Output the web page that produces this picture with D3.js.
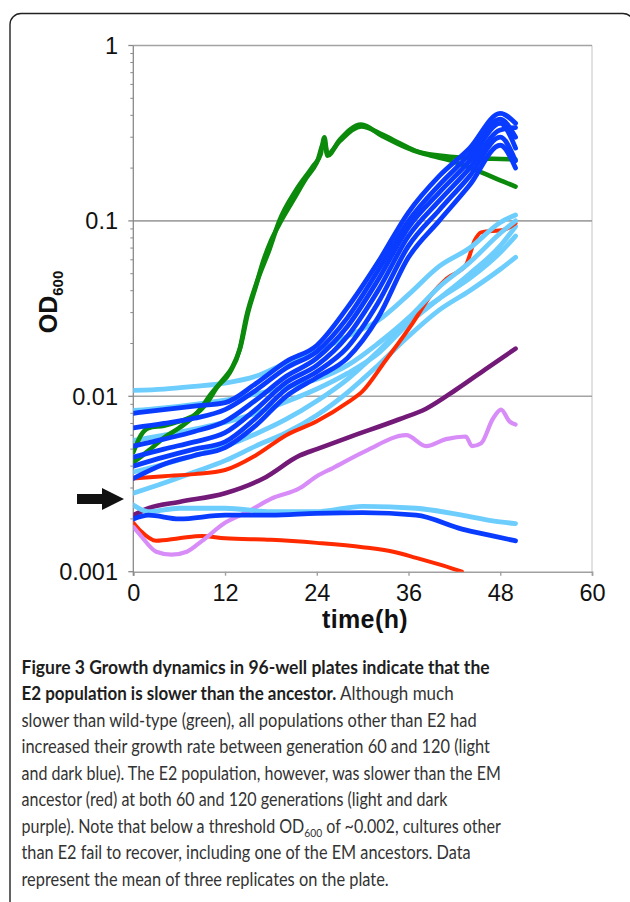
<!DOCTYPE html>
<html>
<head>
<meta charset="utf-8">
<script src="https://cdn.jsdelivr.net/npm/d3@7"></script>
<style>
  body { margin: 0; background: #fff; }
  svg { display: block; }
</style>
</head>
<body>
<svg id="chart" width="630" height="902"></svg>
<script>
// ---- data (OD600 vs hours) ----
var hours = [0, 4, 8, 12, 16, 20, 24, 28, 32, 36, 40, 44, 48, 50]

// 120 generations (dark blue)
var darkBlue1 = [0.0080, 0.0084, 0.0088, 0.0092, 0.0118, 0.0158, 0.0195, 0.032, 0.058, 0.112, 0.180, 0.26, 0.41, 0.36]
var darkBlue2 = [0.0066, 0.0070, 0.0075, 0.0084, 0.0108, 0.0145, 0.0180, 0.028, 0.052, 0.100, 0.160, 0.24, 0.38, 0.30]
var darkBlue3 = [0.0052, 0.0057, 0.0063, 0.0072, 0.0095, 0.0130, 0.0165, 0.025, 0.046, 0.092, 0.145, 0.22, 0.36, 0.26]
var darkBlue4 = [0.0045, 0.0050, 0.0055, 0.0062, 0.0084, 0.0120, 0.0150, 0.022, 0.040, 0.082, 0.130, 0.20, 0.33, 0.34]
var darkBlue5 = [0.0040, 0.0045, 0.0050, 0.0055, 0.0075, 0.0110, 0.0138, 0.019, 0.034, 0.072, 0.115, 0.18, 0.30, 0.22]
var darkBlue6 = [0.0034, 0.0041, 0.0046, 0.0051, 0.0068, 0.0100, 0.0128, 0.0165, 0.028, 0.062, 0.100, 0.16, 0.27, 0.20]

// 60 generations (light blue)
var lightBlue1 = [0.0108, 0.0110, 0.0114, 0.0119, 0.0130, 0.0155, 0.0180, 0.022, 0.027, 0.038, 0.055, 0.070, 0.098, 0.108]
var lightBlue2 = [0.0083, 0.0086, 0.0090, 0.0095, 0.0103, 0.0113, 0.0125, 0.0150, 0.020, 0.028, 0.042, 0.058, 0.085, 0.100]
var lightBlue3 = [0.0056, 0.0060, 0.0065, 0.0071, 0.0080, 0.0093, 0.0110, 0.0135, 0.0175, 0.026, 0.036, 0.050, 0.072, 0.093]
var lightBlue4 = [0.0037, 0.0041, 0.0046, 0.0052, 0.0061, 0.0074, 0.0094, 0.0125, 0.018, 0.027, 0.036, 0.047, 0.066, 0.082]
var lightBlue5 = [0.0028, 0.0032, 0.0037, 0.0043, 0.0052, 0.0062, 0.0078, 0.0105, 0.0150, 0.022, 0.031, 0.040, 0.053, 0.062]

// cultures that never took off
var flatHours = [0, 2, 6, 12, 18, 24, 30, 37, 43, 47, 50]
var lightBlueFlat = [0.0024, 0.0022, 0.0023, 0.0023, 0.0022, 0.0022, 0.00236, 0.0023, 0.0021, 0.00195, 0.00188]
var darkBlueFlat = [0.0020, 0.0021, 0.0020, 0.0021, 0.0021, 0.00215, 0.00217, 0.0021, 0.00175, 0.0016, 0.0015]

// EM ancestor (red)
var redHours = [0, 4, 8, 12, 16, 20, 24, 28, 30, 33, 36.5, 39, 41, 43.5, 44.7, 45.5, 48.5, 50]
var redGrowing = [0.0034, 0.0035, 0.0036, 0.0038, 0.0046, 0.0060, 0.0072, 0.0092, 0.0107, 0.016, 0.026, 0.038, 0.047, 0.056, 0.078, 0.086, 0.089, 0.097]
var redLowHours = [0, 1, 3, 6, 9, 12, 18, 24, 30, 34, 37, 40, 43]
var redLow = [0.0019, 0.0017, 0.0015, 0.00155, 0.0016, 0.00155, 0.00152, 0.00146, 0.00138, 0.0013, 0.0012, 0.0011, 0.001]

// E2 at 120 (dark purple) and 60 (light purple) generations
var darkPurpleHours = [0, 2, 6, 12, 17, 21.8, 24, 28, 34.8, 38.3, 42.2, 46, 50]
var darkPurple = [0.0021, 0.0023, 0.0025, 0.0028, 0.0034, 0.0046, 0.0050, 0.0058, 0.0074, 0.0085, 0.0109, 0.0142, 0.0187]
var lightPurpleHours = [0, 1, 3, 5, 7, 9, 12, 15, 18, 21.8, 24, 26.1, 30.5, 35.7, 38.3, 40.9, 43.5, 44.3, 45.5, 47, 48.1, 49.2, 50]
var lightPurple = [0.0018, 0.0016, 0.0013, 0.00125, 0.0013, 0.0015, 0.0019, 0.0022, 0.0026, 0.0030, 0.0035, 0.0039, 0.0049, 0.0060, 0.0052, 0.0057, 0.0059, 0.0052, 0.0054, 0.0074, 0.0084, 0.0072, 0.0069]

// wild-type (green), two replicates
var greenAHours = [0, 1, 2, 4, 6, 8, 9.5, 11, 12.6, 13.9, 14.8, 16.1, 17.8, 19.1, 21.3, 23.5, 24.5, 25, 25.4, 27, 29.8, 32.6, 35, 37, 40, 43.5, 47, 50]
var greenA = [0.0048, 0.0060, 0.0066, 0.0068, 0.0072, 0.0078, 0.0090, 0.0113, 0.0136, 0.0184, 0.0286, 0.044, 0.0686, 0.100, 0.150, 0.205, 0.240, 0.300, 0.235, 0.290, 0.354, 0.304, 0.270, 0.249, 0.236, 0.229, 0.226, 0.224]
var greenBHours = [0, 2, 4, 6, 7.5, 9, 10, 11.7, 13, 14, 15, 16, 17, 18, 19, 21, 22.6, 24, 25, 25.4, 27, 29.8, 32.6, 35, 37, 39, 41.3, 43.5, 45.7, 48, 50]
var greenB = [0.0042, 0.0049, 0.0058, 0.0066, 0.0074, 0.0087, 0.0101, 0.0124, 0.0148, 0.0190, 0.030, 0.042, 0.059, 0.077, 0.094, 0.133, 0.175, 0.215, 0.280, 0.240, 0.285, 0.345, 0.310, 0.275, 0.250, 0.235, 0.222, 0.205, 0.188, 0.170, 0.157]

var xTicks = [0, 12, 24, 36, 48, 60]
var yTicks = [0.001, 0.01, 0.1, 1]
var yTickLabels = ["0.001", "0.01", "0.1", "1"]
var gridValues = [0.01, 0.1, 1]
var thresholdOD = 0.0026   // where the arrow points

var captionLines = [
    [{t: "Figure 3 Growth dynamics in 96-well plates indicate that the", b: true}],
    [{t: "E2 population is slower than the ancestor.", b: true}, {t: " Although much"}],
    [{t: "slower than wild-type (green), all populations other than E2 had"}],
    [{t: "increased their growth rate between generation 60 and 120 (light"}],
    [{t: "and dark blue). The E2 population, however, was slower than the EM"}],
    [{t: "ancestor (red) at both 60 and 120 generations (light and dark"}],
    [{t: "purple). Note that below a threshold OD"}, {t: "600", sub: true}, {t: " of ~0.002, cultures other"}],
    [{t: "than E2 fail to recover, including one of the EM ancestors. Data"}],
    [{t: "represent the mean of three replicates on the plate."}]
]
// right edge of every caption line in the figure
var captionEnds = [490, 454, 477, 490, 501, 448, 501, 471, 389]

function zip(ts, vs) {
    return ts.map(function(t, i) { return [t, vs[i]] })
}

var LB = "#6dcdfc", DB = "#0a3cff", RED = "#ff2a00", GREEN = "#0b8a0b"
var series = [
    {pts: zip(redLowHours, redLow), color: RED, w: 4},
    {pts: zip(lightPurpleHours, lightPurple), color: "#d88cf8", w: 4.2},
    {pts: zip(darkPurpleHours, darkPurple), color: "#731a78", w: 4.6},
    {pts: zip(flatHours, lightBlueFlat), color: LB, w: 4.8},
    {pts: zip(flatHours, darkBlueFlat), color: DB, w: 4.8},
    {pts: zip(hours, lightBlue5), color: LB, w: 4.8},
    {pts: zip(hours, lightBlue4), color: LB, w: 4.8},
    {pts: zip(hours, lightBlue3), color: LB, w: 4.8},
    {pts: zip(redHours, redGrowing), color: RED, w: 4},
    {pts: zip(hours, lightBlue2), color: LB, w: 4.8},
    {pts: zip(hours, lightBlue1), color: LB, w: 4.8},
    {pts: zip(greenBHours, greenB), color: GREEN, w: 4.6},
    {pts: zip(greenAHours, greenA), color: GREEN, w: 4.6},
    {pts: zip(hours, darkBlue6), color: DB, w: 4.8},
    {pts: zip(hours, darkBlue5), color: DB, w: 4.8},
    {pts: zip(hours, darkBlue4), color: DB, w: 4.8},
    {pts: zip(hours, darkBlue3), color: DB, w: 4.8},
    {pts: zip(hours, darkBlue2), color: DB, w: 4.8},
    {pts: zip(hours, darkBlue1), color: DB, w: 4.8}
]

var svg = d3.select("#chart")

// rounded frame round figure and caption (runs off the bottom)
svg.append("rect")
    .attr("x", 10).attr("y", 13.5)
    .attr("width", 624).attr("height", 930)
    .attr("rx", 11)
    .attr("fill", "none")
    .attr("stroke", "#222")
    .attr("stroke-width", 1.4)

var x = d3.scaleLinear().domain([0, 60]).range([133.3, 592])
var y = d3.scaleLog().domain([0.001, 1]).range([571.7, 45.5])

// right border of plot area
svg.append("line")
    .attr("x1", x(60)).attr("x2", x(60))
    .attr("y1", y(1)).attr("y2", y(0.001))
    .attr("stroke", "#c4c4c4").attr("stroke-width", 1)

// gridlines
svg.selectAll("line.grid")
    .data(gridValues)
    .enter()
    .append("line")
    .attr("class", "grid")
    .attr("x1", x(0)).attr("x2", x(60))
    .attr("y1", function(d) { return y(d) })
    .attr("y2", function(d) { return y(d) })
    .attr("stroke", "#a3a3a3")
    .attr("stroke-width", 1.6)

// bottom axis
var xAxis = d3.axisBottom(x).tickValues(xTicks).tickSize(4).tickPadding(9).tickFormat(d3.format("d"))
var gx = svg.append("g").attr("transform", "translate(0," + y(0.001) + ")").call(xAxis)
gx.select(".domain").attr("stroke", "#a0a0a0").attr("stroke-width", 1.6)
gx.selectAll(".tick line").attr("stroke", "#a0a0a0").attr("stroke-width", 1.4)
gx.selectAll(".tick text")
    .attr("font-family", "'Liberation Sans', Arial, sans-serif")
    .attr("font-size", 23.5)
    .attr("fill", "#111")

// left axis with log minor ticks
var minor = y.ticks().filter(function(d) { return yTicks.indexOf(d) < 0 })
svg.selectAll("line.minor")
    .data(minor)
    .enter()
    .append("line")
    .attr("x1", x(0) - 3).attr("x2", x(0))
    .attr("y1", function(d) { return y(d) })
    .attr("y2", function(d) { return y(d) })
    .attr("stroke", "#8a8a8a").attr("stroke-width", 1)
svg.selectAll("line.major")
    .data(yTicks)
    .enter()
    .append("line")
    .attr("x1", x(0) - 5).attr("x2", x(0))
    .attr("y1", function(d) { return y(d) })
    .attr("y2", function(d) { return y(d) })
    .attr("stroke", "#8a8a8a").attr("stroke-width", 1.3)
svg.append("line")
    .attr("x1", x(0)).attr("x2", x(0))
    .attr("y1", y(1)).attr("y2", y(0.001) + 4)
    .attr("stroke", "#8a8a8a").attr("stroke-width", 1.3)

svg.selectAll("text.ylab")
    .data(yTicks)
    .enter()
    .append("text")
    .attr("x", 118)
    .attr("y", function(d) { return y(d) })
    .attr("dy", "0.35em")
    .attr("text-anchor", "end")
    .attr("font-family", "'Liberation Sans', Arial, sans-serif")
    .attr("font-size", 23.5)
    .attr("fill", "#111")
    .text(function(d, i) { return yTickLabels[i] })

// growth curves
svg.append("clipPath").attr("id", "plot")
    .append("rect")
    .attr("x", x(0)).attr("y", y(1) - 5)
    .attr("width", x(60) - x(0)).attr("height", y(0.001) - y(1) + 5)

var line = d3.line()
    .x(function(d) { return x(d[0]) })
    .y(function(d) { return y(d[1]) })
    .curve(d3.curveMonotoneX)

svg.append("g").attr("clip-path", "url(#plot)")
    .selectAll("path")
    .data(series)
    .enter()
    .append("path")
    .attr("d", function(d) { return line(d.pts) })
    .attr("fill", "none")
    .attr("stroke", function(d) { return d.color })
    .attr("stroke-width", function(d) { return d.w })
    .attr("stroke-linejoin", "round")
    .attr("stroke-linecap", "round")

// threshold arrow
var ay = y(thresholdOD)
svg.append("path")
    .attr("d", "M77," + (ay - 5) + "L102," + (ay - 5) + "L102," + (ay - 11) +
               "L124," + ay + "L102," + (ay + 11) + "L102," + (ay + 5) + "L77," + (ay + 5) + "Z")
    .attr("fill", "#111")

// axis titles
svg.append("text")
    .attr("x", 365).attr("y", 628)
    .attr("text-anchor", "middle")
    .attr("font-family", "'Liberation Sans', Arial, sans-serif")
    .attr("font-weight", "bold")
    .attr("font-size", 25)
    .attr("letter-spacing", 0.4)
    .attr("fill", "#111")
    .text("time(h)")

var od = svg.append("text")
    .attr("transform", "translate(57,302) rotate(-90)")
    .attr("text-anchor", "middle")
    .attr("font-family", "'Liberation Sans', Arial, sans-serif")
    .attr("font-weight", "bold")
    .attr("font-size", 25)
    .attr("fill", "#111")
od.append("tspan").text("OD")
od.append("tspan").attr("font-size", 15).attr("dy", 6).text("600")

// caption: condensed by scaling each line to its width in the figure
var capFont = "Lato, Roboto, 'Liberation Sans', sans-serif"
var capLeft = 21.5
var capSize = 19
captionLines.forEach(function(segs, i) {
    var t = svg.append("text")
        .attr("x", 0).attr("y", 0)
        .attr("font-family", capFont)
        .attr("font-size", capSize)
    var shift = 0
    segs.forEach(function(s) {
        var ts = t.append("tspan").text(s.t)
            .attr("font-weight", s.b ? "bold" : "normal")
            .attr("fill", s.b ? "#1e1e1e" : "#333")
        if (s.sub) { ts.attr("font-size", capSize * 0.64).attr("dy", 4); shift = 4 }
        else if (shift) { ts.attr("dy", -shift); shift = 0 }
    })
    var natural = t.node().getComputedTextLength()
    var sx = (captionEnds[i] - capLeft) / natural
    t.attr("transform", "translate(" + capLeft + "," + (673.5 + i * 26.5) + ") scale(" + sx + ",1)")
})
</script>
</body>
</html>
